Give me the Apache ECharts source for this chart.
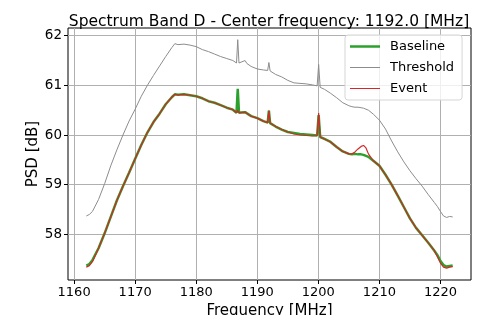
<!DOCTYPE html>
<html>
<head>
<meta charset="utf-8">
<script src="https://cdn.jsdelivr.net/npm/echarts@6/dist/echarts.min.js"></script>
<style>
  html, body { margin: 0; padding: 0; background: #fff; }
  #root { width: 482px; height: 315px; }
</style>
</head>
<body>
<div id="root"></div>
<script>
const freq = [1162, 1162.5, 1163, 1164, 1165, 1166, 1167, 1168, 1169, 1170,
  1171, 1172, 1173, 1174, 1175, 1176, 1176.5, 1177, 1178, 1179,
  1180, 1181, 1182, 1183, 1184, 1185, 1186, 1186.6, 1186.8, 1187.0,
  1187.3, 1188, 1188.3, 1189, 1190, 1191, 1191.7, 1191.9, 1192.1, 1193,
  1194, 1195, 1196, 1197, 1198, 1199, 1199.8, 1200.05, 1200.3, 1201,
  1202, 1203, 1204, 1205, 1205.5, 1206, 1206.5, 1207, 1207.4, 1207.8,
  1208.2, 1209, 1210, 1211, 1212, 1213, 1214, 1215, 1216, 1217,
  1218, 1219, 1219.5, 1220, 1220.5, 1221, 1221.5, 1222];

const baseline = [57.37, 57.40, 57.48, 57.72, 58.02, 58.35, 58.68, 58.97, 59.24, 59.52,
  59.80, 60.05, 60.26, 60.43, 60.62, 60.76, 60.82, 60.81, 60.82, 60.80,
  60.78, 60.74, 60.68, 60.65, 60.60, 60.55, 60.51, 60.45, 60.93, 60.45,
  60.41, 60.46, 60.42, 60.38, 60.34, 60.28, 60.25, 60.49, 60.24, 60.17,
  60.11, 60.06, 60.04, 60.02, 60.01, 60.00, 59.99, 60.40, 59.96, 59.92,
  59.86, 59.76, 59.67, 59.62, 59.61, 59.62, 59.61, 59.61, 59.60, 59.58,
  59.56, 59.48, 59.38, 59.20, 59.00, 58.78, 58.55, 58.32, 58.13, 57.98,
  57.83, 57.67, 57.58, 57.46, 57.38, 57.35, 57.36, 57.37];

const threshold = [58.37, 58.40, 58.46, 58.70, 59.02, 59.38, 59.70, 60.00, 60.28, 60.52,
  60.78, 61.00, 61.20, 61.39, 61.58, 61.76, 61.84, 61.82, 61.83, 61.81,
  61.78, 61.72, 61.68, 61.63, 61.58, 61.54, 61.50, 61.45, 61.92, 61.45,
  61.44, 61.50, 61.44, 61.38, 61.33, 61.31, 61.30, 61.46, 61.29, 61.22,
  61.17, 61.10, 61.05, 61.04, 61.03, 61.01, 60.99, 61.42, 60.96, 60.92,
  60.84, 60.75, 60.65, 60.59, 60.57, 60.56, 60.56, 60.55, 60.54, 60.52,
  60.50, 60.42, 60.30, 60.12, 59.88, 59.66, 59.46, 59.28, 59.12, 58.97,
  58.80, 58.64, 58.56, 58.46, 58.37, 58.34, 58.36, 58.35];

const eventPsd = [57.34, 57.37, 57.45, 57.72, 58.02, 58.35, 58.68, 58.97, 59.24, 59.52,
  59.80, 60.05, 60.26, 60.43, 60.62, 60.76, 60.82, 60.81, 60.82, 60.80,
  60.78, 60.74, 60.68, 60.65, 60.60, 60.55, 60.51, 60.45, 60.50, 60.45,
  60.41, 60.46, 60.42, 60.38, 60.34, 60.28, 60.25, 60.49, 60.24, 60.17,
  60.11, 60.06, 60.02, 60.00, 59.99, 59.98, 59.99, 60.44, 59.96, 59.92,
  59.86, 59.76, 59.67, 59.62, 59.62, 59.66, 59.72, 59.77, 59.79, 59.74,
  59.62, 59.48, 59.38, 59.20, 59.00, 58.78, 58.55, 58.32, 58.13, 57.98,
  57.83, 57.67, 57.55, 57.42, 57.34, 57.32, 57.34, 57.35];

const xTicks = [1160, 1170, 1180, 1190, 1200, 1210, 1220];
const yTicks = [58, 59, 60, 61, 62];

const pairs = (ys) => freq.map((f, i) => [f, ys[i]]);

const chart = echarts.init(document.getElementById('root'));
const font = 'DejaVu Sans';

chart.setOption({
  animation: false,
  textStyle: { fontFamily: font },
  title: {
    text: 'Spectrum Band D - Center frequency: 1192.0 [MHz]',
    left: 264, top: 9, textAlign: 'center',
    textStyle: { fontFamily: font, fontSize: 15.5, fontWeight: 'normal', color: '#000' }
  },
  grid: {
    left: 68, right: 11, top: 28, bottom: 35,
    outerBoundsMode: 'none',
    show: true, borderColor: '#000', borderWidth: 1
  },
  legend: {
    orient: 'vertical', left: 345, top: 35,
    padding: [5, 8, 5, 5], itemGap: 8, itemWidth: 30, itemHeight: 13,
    backgroundColor: 'rgba(255,255,255,0.8)', borderColor: '#d5d5d5', borderWidth: 1, borderRadius: 3,
    textStyle: { fontFamily: font, fontSize: 13, color: '#000', padding: [0, 0, 0, 5] },
    data: [
      { name: 'Baseline', icon: 'path://M0,0H30V2.5H0Z' },
      { name: 'Threshold', icon: 'path://M0,0H30V1H0Z' },
      { name: 'Event', icon: 'path://M0,0H30V1H0Z' }
    ]
  },
  xAxis: {
    type: 'value', min: 1159, max: 1225,
    name: 'Frequency [MHz]', nameLocation: 'middle', nameGap: 23,
    nameTextStyle: { fontFamily: font, fontSize: 15, color: '#000' },
    axisLine: { show: false },
    axisTick: { show: true, length: 4, customValues: xTicks, lineStyle: { color: '#000' } },
    axisLabel: { customValues: xTicks, margin: 6, fontSize: 13, color: '#000', fontFamily: font,
      formatter: (v) => String(v) },
    splitLine: { show: true, lineStyle: { color: '#b0b0b0', width: 1 } }
  },
  yAxis: {
    type: 'value', min: 57.08, max: 62.155,
    name: 'PSD [dB]', nameLocation: 'middle', nameGap: 27, nameMoveOverlap: false,
    nameTextStyle: { fontFamily: font, fontSize: 15, color: '#000' },
    axisLine: { show: false },
    axisTick: { show: true, length: 4, customValues: yTicks, lineStyle: { color: '#000' } },
    axisLabel: { customValues: yTicks, margin: 6, fontSize: 13.5, color: '#000', fontFamily: font,
      formatter: (v) => String(v) },
    splitLine: { show: true, lineStyle: { color: '#b0b0b0', width: 1 } }
  },
  series: [
    {
      name: 'Baseline', type: 'line', data: pairs(baseline), showSymbol: false, symbol: 'none',
      lineStyle: { color: '#2ca02c', width: 2.5 }, itemStyle: { color: '#2ca02c' }
    },
    {
      name: 'Threshold', type: 'line', data: pairs(threshold), showSymbol: false, symbol: 'none',
      lineStyle: { color: '#8c8c8c', width: 1 }, itemStyle: { color: '#8c8c8c' }
    },
    {
      name: 'Event', type: 'line', data: pairs(eventPsd), showSymbol: false, symbol: 'none',
      lineStyle: { color: '#d62728', width: 1.2 }, itemStyle: { color: '#d62728' }
    }
  ]
});
</script>
</body>
</html>
